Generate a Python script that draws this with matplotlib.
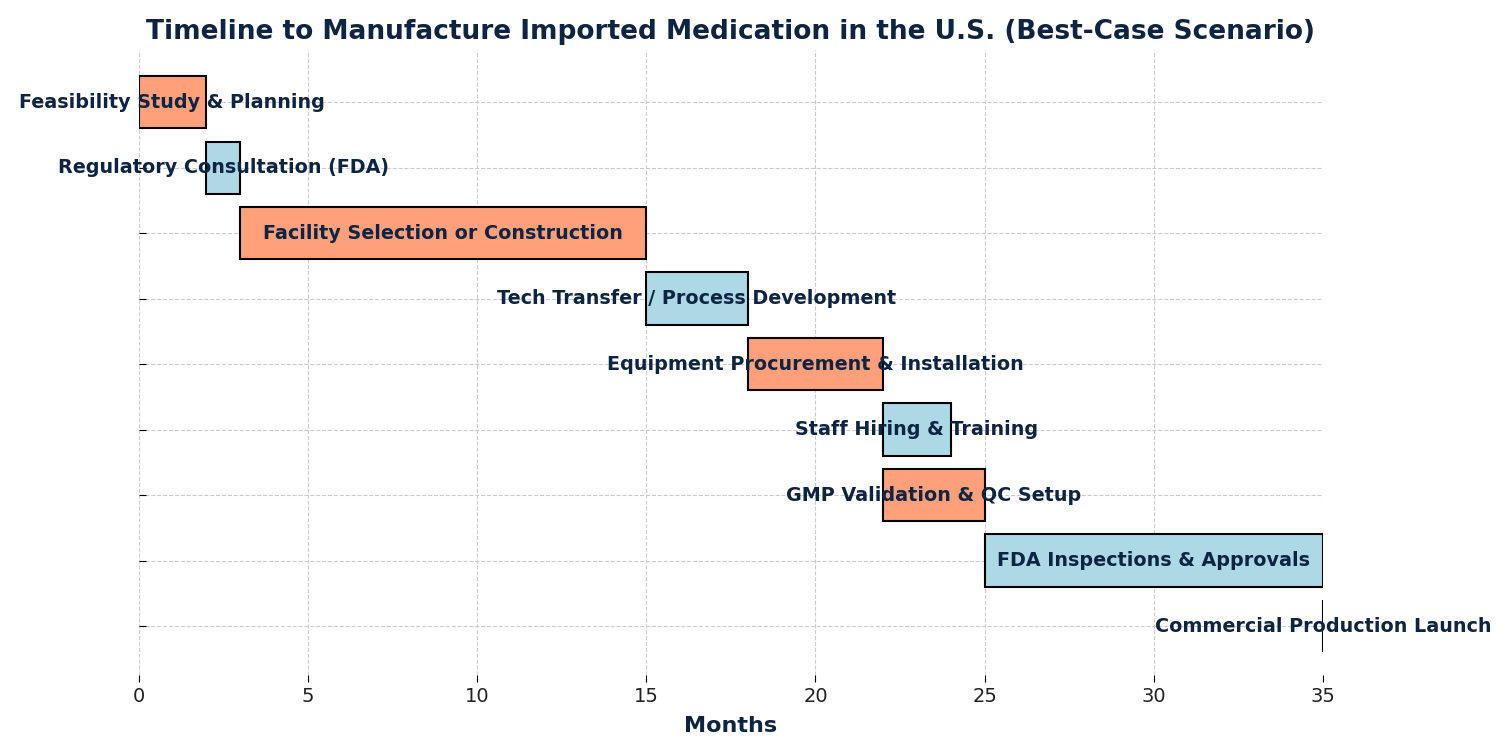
import matplotlib
matplotlib.use( 'Agg' )
import matplotlib.pyplot as plt

tasks = [
'Feasibility Study & Planning',
'Regulatory Consultation (FDA)',
'Facility Selection or Construction',
'Tech Transfer / Process Development',
'Equipment Procurement & Installation',
'Staff Hiring & Training',
'GMP Validation & QC Setup',
'FDA Inspections & Approvals',
'Commercial Production Launch'
]
start    = [ 0, 2, 3, 15, 18, 22, 22, 25, 35 ]
duration = [ 2, 1, 12, 3, 4, 2, 3, 10, 0 ]

cols = [ '#FFA07A', '#ADD8E6' ]
txtc = '#0d2442'

fig = plt.figure( figsize = ( 15.11, 7.56 ), dpi = 100 )
ax = fig.add_axes( [ 0.0917, 0.107, 0.784, 0.827 ] )

ypos = list( range( len( tasks ) ) )
for i in ypos:
    ax.barh( ypos[i], duration[i], left = start[i], height = 0.8,
             color = cols[i % 2], edgecolor = 'black', linewidth = 1.5, zorder = 2 )
    ax.text( start[i] + duration[i] / 2.0, ypos[i], tasks[i],
             ha = 'center', va = 'center', fontsize = 13.8, fontweight = 'bold',
             color = txtc, zorder = 3 )

ax.set_xlim( 0, 35 )
ax.set_ylim( 8.75, -0.8 )
ax.set_yticks( ypos )
ax.set_yticklabels( [ '' ] * len( tasks ) )
ax.tick_params( axis = 'y', direction = 'in', length = 5 )
ax.tick_params( axis = 'x', labelsize = 14, labelcolor = '#222222', length = 5 )
ax.grid( True, linestyle = '--', color = '#cccccc', linewidth = 0.8, zorder = 0 )
ax.set_axisbelow( True )
for sp in ax.spines.values():
    sp.set_visible( False )

ax.set_xlabel( 'Months', fontsize = 16, fontweight = 'bold', color = txtc, labelpad = 7 )
ax.set_title( 'Timeline to Manufacture Imported Medication in the U.S. (Best-Case Scenario)',
              fontsize = 19, fontweight = 'bold', color = txtc, pad = 8 )

plt.savefig( 'out.png', dpi = 100 )
